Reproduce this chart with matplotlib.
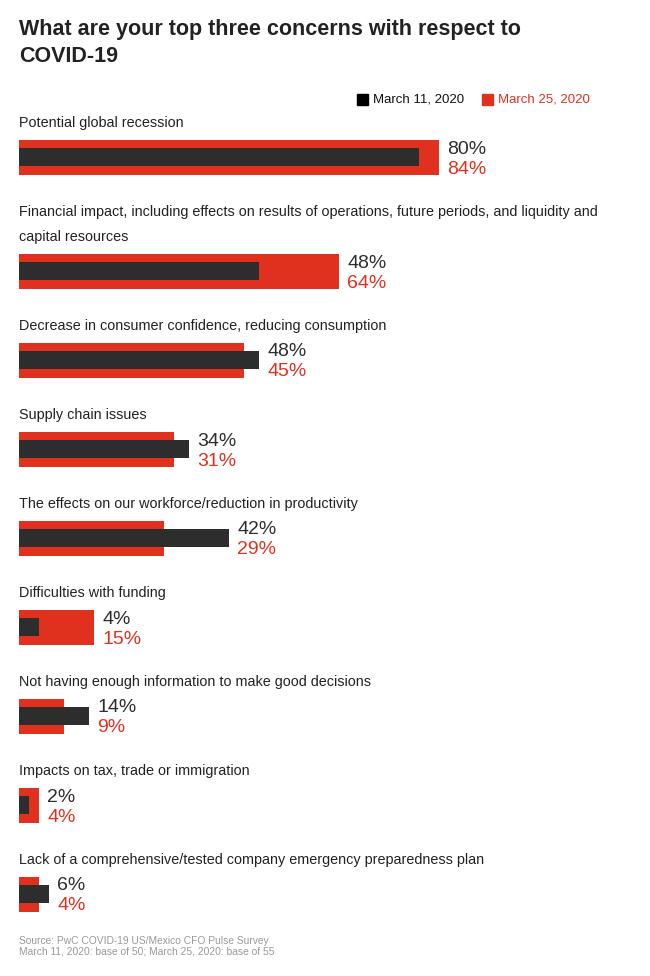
import matplotlib.pyplot as plt

categories = [
    "Potential global recession",
    "Financial impact, including effects on results of operations, future periods, and liquidity and\ncapital resources",
    "Decrease in consumer confidence, reducing consumption",
    "Supply chain issues",
    "The effects on our workforce/reduction in productivity",
    "Difficulties with funding",
    "Not having enough information to make good decisions",
    "Impacts on tax, trade or immigration",
    "Lack of a comprehensive/tested company emergency preparedness plan",
]
march11 = [80, 48, 48, 34, 42, 4, 14, 2, 6]
march25 = [84, 64, 45, 31, 29, 15, 9, 4, 4]

BLACK = "#2d2d2d"
RED = "#e0301e"
W, H = 650, 976

plt.rcParams['font.family'] = ['Liberation Sans', 'DejaVu Sans']

fig = plt.figure(figsize=(W / 100, H / 100), dpi=100)
# axes spans full height, x axis in percent (5 px per %)
ax = fig.add_axes([19 / W, 0, 500 / W, 1])
ax.set_xlim(0, 100)
ax.set_ylim(H, 0)
ax.axis('off')

# bar centers in pixel rows
centers = [157, 271, 360, 449, 538, 627, 716, 805, 894]

for i, (cat, a, b) in enumerate(zip(categories, march11, march25)):
    yc = centers[i]
    ax.barh(yc, b, height=35, left=0, color=RED)
    ax.barh(yc, a, height=18, left=0, color=BLACK)
    lines = cat.split("\n")
    for k, line in enumerate(lines):
        ax.text(0, yc - 34 - 25 * (len(lines) - 1 - k), line, fontsize=10.4,
                color="#222222", va='center', ha='left', clip_on=False)
    xt = max(a, b) + 1.6
    ax.text(xt, yc - 8, f"{a}%", fontsize=14, color=BLACK, va='center', ha='left')
    ax.text(xt, yc + 12, f"{b}%", fontsize=14, color=RED, va='center', ha='left')

fig.text(19 / W, 1 - 30 / H, "What are your top three concerns with respect to",
         fontsize=15.5, fontweight='bold', color="#222222", va='center', ha='left')
fig.text(19 / W, 1 - 57 / H, "COVID-19",
         fontsize=15.5, fontweight='bold', color="#222222", va='center', ha='left')

# legend
fig.patches.append(plt.Rectangle((357 / W, 1 - 105 / H), 11 / W, 11 / H,
                                 color="#000000", transform=fig.transFigure))
fig.text(373 / W, 1 - 100 / H, "March 11, 2020", fontsize=9.5, color="#111111",
         va='center', ha='left')
fig.patches.append(plt.Rectangle((482 / W, 1 - 105 / H), 11 / W, 11 / H,
                                 color=RED, transform=fig.transFigure))
fig.text(498 / W, 1 - 100 / H, "March 25, 2020", fontsize=9.5, color=RED,
         va='center', ha='left')

fig.text(19 / W, 1 - 941 / H, "Source: PwC COVID-19 US/Mexico CFO Pulse Survey",
         fontsize=7.4, color="#999999", va='center', ha='left')
fig.text(19 / W, 1 - 952 / H, "March 11, 2020: base of 50; March 25, 2020: base of 55",
         fontsize=7.4, color="#999999", va='center', ha='left')

fig.savefig("out.png", dpi=100, facecolor='white')
